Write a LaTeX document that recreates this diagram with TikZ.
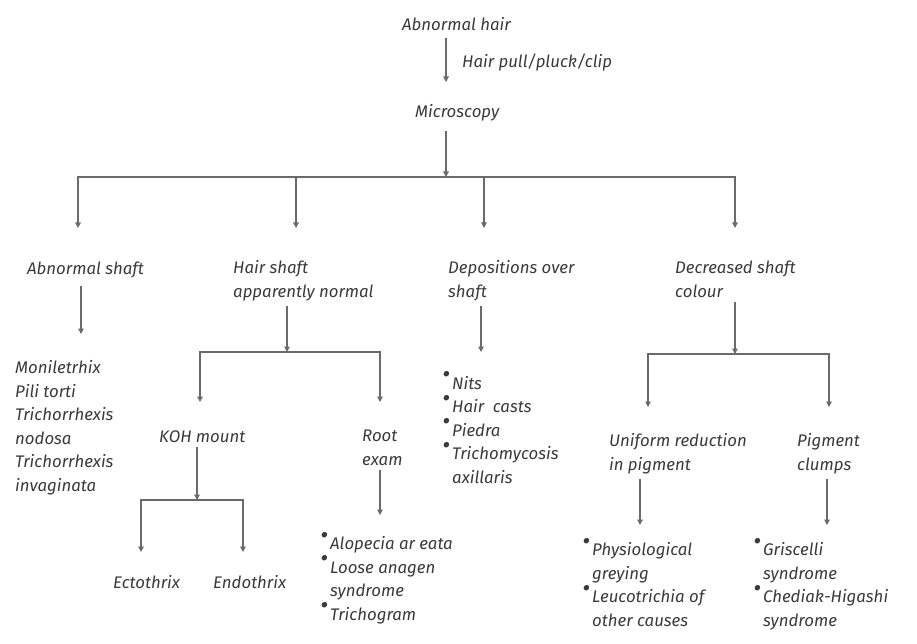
\documentclass[tikz,border=0pt]{standalone}
\usepackage{fontspec}
\setmainfont{Fira Sans}
\usepackage{tikz}
\usetikzlibrary{arrows.meta,positioning,calc}
\definecolor{inkgray}{HTML}{3A3A3A}
\definecolor{linegray}{HTML}{6A6A6A}
\tikzset{
  txt/.style={anchor=base west, inner sep=0pt, outer ysep=5pt, align=left,
    text=inkgray, font=\fontsize{16.8}{23.5}\selectfont\itshape},
  arr/.style={-{Triangle[length=5.5pt,width=5.5pt]}, draw=linegray, line width=1.2pt},
}
% bullet hanging left of the text
\newcommand{\bul}{\makebox[0pt][r]{\raisebox{0.36em}{\scalebox{1.45}{\textbullet}}\hspace{2pt}}}

\begin{document}
\begin{tikzpicture}[x=1pt, y=-1pt]
  \useasboundingbox (0,0) rectangle (917,644);
  % top (multi-line nodes sit on their last baseline)
  \node[txt] (hair) at (402,31) {Abnormal hair};
  \node[txt] (pull) at (462,68) {Hair pull/pluck/clip};
  \node[txt] (micro) at (415,118) {Microscopy};
  % first level
  \node[txt] (ash) at (27,274) {Abnormal shaft};
  \node[txt] (normal) at (233,297) {Hair shaft\\apparently normal};
  \node[txt] (dep) at (448,297) {Depositions over\\shaft};
  \node[txt] (dec) at (675,297) {Decreased shaft\\colour};
  % abnormal shaft list
  \node[txt] (abnlst) at (15,491) {Moniletrhix\\Pili torti\\Trichorrhexis\\nodosa\\Trichorrhexis\\invaginata};
  % apparently normal
  \node[txt] (koh) at (159,442) {KOH mount};
  \node[txt] (root) at (362,465) {Root\\exam};
  \node[txt] (ecto) at (113,588) {Ectothrix};
  \node[txt] (endo) at (213,588) {Endothrix};
  \node[txt] (rootlst) at (330,620) {\bul Alopecia ar eata\\\bul Loose anagen\\syndrome\\\bul Trichogram};
  % depositions
  \node[txt] (deplst) at (452,483) {\bul Nits\\\bul Hair\ \ casts\\\bul Piedra\\\bul Trichomycosis\\axillaris};
  % decreased colour
  \node[txt] (uni) at (609,470) {Uniform reduction\\in pigment};
  \node[txt] (pig) at (797,470) {Pigment\\clumps};
  \node[txt] (unilst) at (592,626) {\bul Physiological\\greying\\\bul Leucotrichia of\\other causes};
  \node[txt] (piglst) at (763,626) {\bul Griscelli\\syndrome\\\bul Chediak-Higashi\\syndrome};

  % forks and arrow tips
  \coordinate (tipH) at (446,82);
  \coordinate (busM) at (446,177);
  \coordinate (tipA) at (78,228);
  \coordinate (tipB) at (296,228);
  \coordinate (tipC) at (484,228);
  \coordinate (tipD) at (735,228);
  \coordinate (tipAsh) at (81,334);
  \coordinate (busN) at (287,352);
  \coordinate (tipKoh) at (200,402);
  \coordinate (tipRoot) at (380,402);
  \coordinate (busK) at (197,500);
  \coordinate (tipEcto) at (141,552);
  \coordinate (tipEndo) at (243,552);
  \coordinate (tipR) at (380,515);
  \coordinate (tipDep) at (481,352);
  \coordinate (busD) at (735,354);
  \coordinate (tipUni) at (648,407);
  \coordinate (tipPig) at (829,407);
  \coordinate (tipU) at (640,525);
  \coordinate (tipP) at (827,525);

  % arrows
  \draw[arr, shorten <=2pt] (hair.south -| tipH) -- (tipH);
  \draw[arr, shorten <=4pt] (micro.south -| busM) -- (busM);
  \draw[arr] (busM) -| (tipA);
  \draw[arr] (busM) -| (tipB);
  \draw[arr] (busM) -| (tipC);
  \draw[arr] (busM) -| (tipD);
  \draw[arr, shorten <=3pt] (ash.south -| tipAsh) -- (tipAsh);
  \draw[arr] (normal.south -| busN) -- (busN);
  \draw[arr] (busN) -| (tipKoh);
  \draw[arr] (busN) -| (tipRoot);
  \draw[arr] (koh.south -| busK) -- (busK);
  \draw[arr] (busK) -| (tipEcto);
  \draw[arr] (busK) -| (tipEndo);
  \draw[arr] (root.south -| tipR) -- (tipR);
  \draw[arr] (dep.south -| tipDep) -- (tipDep);
  \draw[arr] (dec.south -| busD) -- (busD);
  \draw[arr] (busD) -| (tipUni);
  \draw[arr] (busD) -| (tipPig);
  \draw[arr] (uni.south -| tipU) -- (tipU);
  \draw[arr] (pig.south -| tipP) -- (tipP);
\end{tikzpicture}
\end{document}
